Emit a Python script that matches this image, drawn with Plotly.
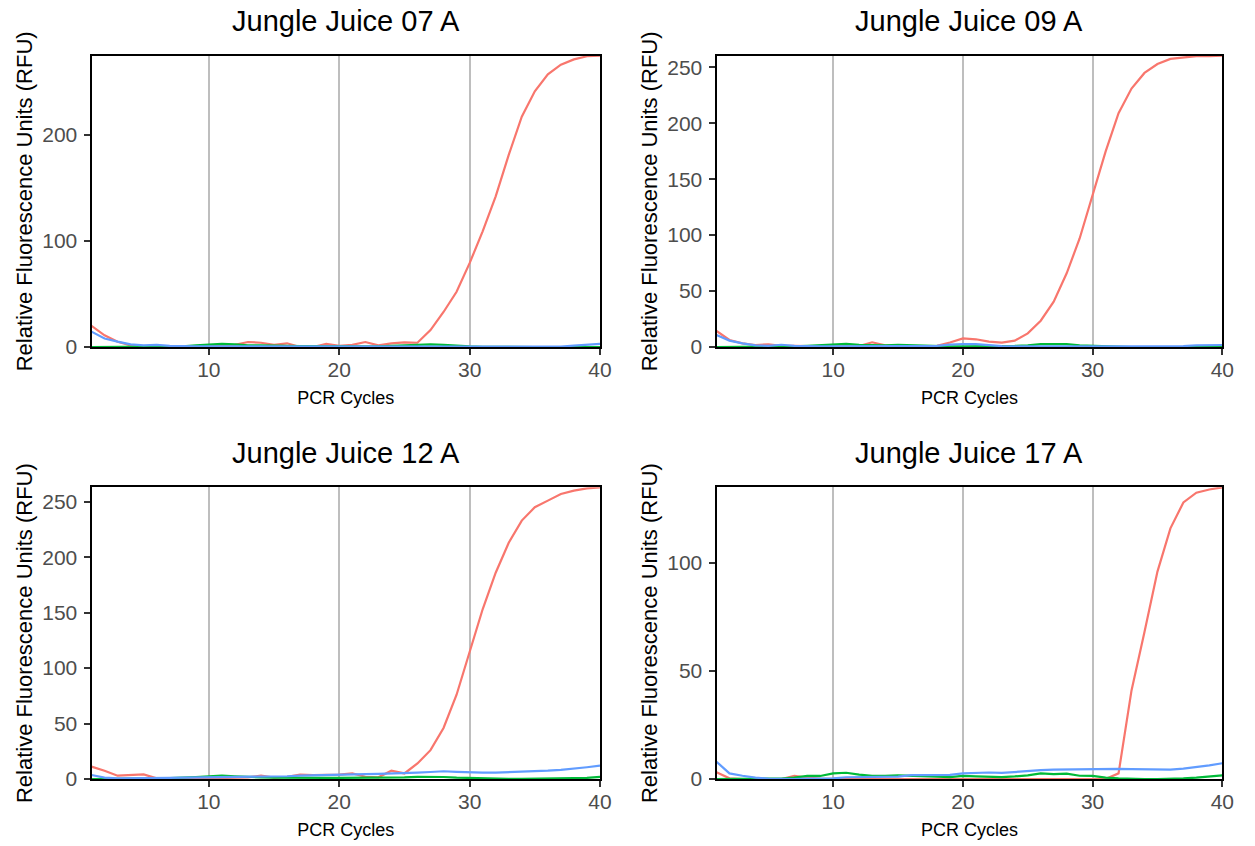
import plotly.graph_objects as go

cycles = list(range(1, 41))

titles = ["Jungle Juice 07 A", "Jungle Juice 09 A", "Jungle Juice 12 A", "Jungle Juice 17 A"]

# Jungle Juice 07 A
jj07_red = [20, 11, 5, 1.5, 0.3, 0.2, 0.2, 0.2, 0.3, 0.5, 1, 2, 4.7, 4, 2, 3.5, 0, 0, 3, 1,
            2, 4.7, 1.5, 3.5, 4.4, 4, 16, 33, 52, 79, 109, 142, 181, 217, 241, 257, 266, 271, 274, 274.5]
jj07_green = [0, 0, 0, 0, 0, 0, 0.3, 0.5, 1.5, 2.5, 3, 2.5, 1.5, 1.5, 1, 1, 0.8, 0.6, 0.5, 0.5,
              0.5, 0.5, 0.6, 1, 2, 2.5, 2.5, 2, 1, 0.5, 0.2, 0, 0, 0, 0, 0, 0, 0, 0, 0]
jj07_blue = [14.5, 8, 5, 2.5, 1.5, 2, 1, 0.5, 0.5, 0.6, 0.6, 0.6, 0.6, 0.5, 0.5, 0.5, 0.4, 0.4, 0.5, 0.5,
             0.5, 0.5, 0.5, 0.5, 0.5, 0.5, 0.5, 0.6, 0.6, 0.6, 0.5, 0.4, 0.3, 0.2, 0.2, 0.2, 0.3, 1.3, 2.2, 3]

# Jungle Juice 09 A
jj09_red = [14.3, 6.3, 3.3, 1.8, 2.4, 1, 1, 0.5, 0.5, 0.5, 0.5, 0.8, 4.2, 1.5, 0.5, 0.5, 0.5, 1, 4, 7.7,
            6.9, 4.8, 3.9, 5.7, 12.2, 23.5, 40.5, 65.9, 97, 137, 174.6, 209, 231, 245, 253, 257.5, 259, 260, 260, 260.4]
jj09_green = [0, 0, 0, 0, 0, 0, 0.5, 1, 1.5, 2.4, 2.8, 2, 1.5, 1.5, 2, 1.5, 1, 0.8, 0.6, 0.6,
              0.6, 0.6, 0.8, 1, 1.5, 2.5, 2.5, 2.5, 1.5, 1, 0.5, 0.2, 0, 0, 0, 0, 0, 0, 0, 0]
jj09_blue = [10.7, 5.7, 3.3, 1.5, 1, 2, 1, 0.5, 0.5, 0.5, 0.5, 0.5, 0.5, 0.5, 0.5, 0.5, 0.6, 1, 2.2, 2.7,
             2.5, 1.5, 0.8, 0.5, 0.5, 0.5, 0.5, 0.5, 0.5, 0.5, 0.4, 0.3, 0.3, 0.3, 0.3, 0.4, 0.8, 1.5, 1.8, 1.8]

# Jungle Juice 12 A
jj12_red = [11.2, 7.5, 3, 3.9, 4.2, 0.6, 0.2, 0.2, 0.3, 0.5, 1, 1.5, 1.5, 3, 1.2, 2, 3.9, 3.6, 3.6, 3.9,
            5, 2, 1.5, 7.5, 5, 14, 26, 46, 76, 114, 153, 186, 213, 233, 245, 251, 257, 260, 262, 263]
jj12_green = [0, 0, 0, 0, 0.2, 0.5, 0.8, 1, 1.8, 2.5, 3, 2.5, 1.8, 1.5, 1.2, 1, 1, 1, 1, 1,
              1, 1, 1, 1.2, 1.5, 2, 2, 1.8, 1.2, 0.8, 0.5, 0.3, 0.2, 0.2, 0.2, 0.3, 0.5, 0.8, 1, 2]
jj12_blue = [3.6, 1.2, 0.5, 0.5, 0.6, 0.8, 1, 1.2, 1.3, 1.5, 1.6, 1.7, 1.8, 1.9, 2, 2.5, 3, 3.4, 3.7, 3.9,
             4.2, 4.4, 4.6, 4.8, 5, 5.8, 6.3, 7, 6.5, 6, 5.8, 5.7, 6, 6.3, 6.8, 7.5, 8.3, 9.3, 10.6, 12]

# Jungle Juice 17 A
jj17_red = [3.1, 0.3, 0, 0, 0, 0, 1.4, 0.6, 0.2, 0, 0, 0, 0, 0, 0, 0, 0, 0, 0, 0,
            0, 0, 0, 0, 0, 0, 0, 0, 0, 0, 0, 2.6, 41, 68, 96, 116, 128, 132.5, 134, 135]
jj17_green = [0, 0, 0, 0, 0, 0.2, 0.6, 1.4, 1.4, 2.6, 2.9, 2, 1.5, 1.4, 1.7, 1.4, 1.1, 1.1, 0.9, 1.4,
              1.2, 1.1, 0.9, 1.2, 1.7, 2.6, 2.3, 2.5, 1.5, 1.4, 0.6, 0.3, 0, 0, 0, 0, 0.3, 0.6, 1.1, 1.7]
jj17_blue = [8, 2.6, 1.5, 0.6, 0.2, 0, 0, 0.2, 0.2, 0.3, 0.8, 0.9, 1, 1, 1.1, 1.8, 1.8, 1.8, 1.9, 2.6,
             2.8, 3, 2.8, 3.3, 3.9, 4.1, 4.3, 4.4, 4.5, 4.8, 4.8, 4.7, 4.6, 4.4, 4.2, 4.3, 4.8, 5.4, 6.3, 7.3]

panels = [
    (jj07_red, jj07_green, jj07_blue),
    (jj09_red, jj09_green, jj09_blue),
    (jj12_red, jj12_green, jj12_blue),
    (jj17_red, jj17_green, jj17_blue),
]
y_dticks = [100, 50, 50, 50]

RED, GREEN, BLUE = "#F8766D", "#00BA38", "#619CFF"
FONT = "Liberation Sans, Arial, sans-serif"

W, H = 1255, 846


def fx(p):
    return p / W


def fy(p):
    return (H - p) / H


xdoms = [[fx(91.5), fx(600.0)], [fx(716.5), fx(1222.3)]]
ydoms = [[fy(347), fy(55.7)], [fy(779), fy(487.3)]]
title_y = [fy(21), fy(453)]

fig = go.Figure()
layout = {}
annotations = []
for i, (red, green, blue) in enumerate(panels):
    r, c = divmod(i, 2)
    n = i + 1
    xa = "x" if n == 1 else f"x{n}"
    ya = "y" if n == 1 else f"y{n}"
    for vals, col in ((red, RED), (green, GREEN), (blue, BLUE)):
        fig.add_trace(go.Scatter(x=cycles, y=vals, mode="lines", xaxis=xa, yaxis=ya,
                                 line=dict(color=col, width=2.2), showlegend=False,
                                 hoverinfo="skip"))
    ymax = max(max(red), max(green), max(blue))
    ymin = min(0, min(red), min(green), min(blue))
    key = "" if n == 1 else str(n)
    layout["xaxis" + key] = dict(
        domain=xdoms[c], anchor=ya, range=[min(cycles), max(cycles)],
        tickvals=[10, 20, 30, 40], showgrid=True, gridcolor="#bebebe", gridwidth=2,
        zeroline=False, showline=True, linecolor="black", linewidth=2, mirror=True,
        ticks="outside", ticklen=6, tickwidth=2, tickcolor="#333333",
        ticklabelstandoff=-3,
        tickfont=dict(family=FONT, size=21, color="#4d4d4d"),
        title=dict(text="PCR Cycles", standoff=11,
                   font=dict(family=FONT, size=18, color="black")),
        automargin=False,
    )
    layout["yaxis" + key] = dict(
        domain=ydoms[r], anchor=xa, range=[ymin, ymax], dtick=y_dticks[i], tick0=0,
        showgrid=False, zeroline=False, showline=True, linecolor="black", linewidth=2,
        mirror=True, ticks="outside", ticklen=6, tickwidth=2, tickcolor="#333333",
        ticklabelstandoff=2,
        tickfont=dict(family=FONT, size=21, color="#4d4d4d"),
        title=dict(text="Relative Fluorescence Units (RFU)", standoff=4,
                   font=dict(family=FONT, size=22, color="black")),
        automargin=False,
    )
    annotations.append(dict(
        text=titles[i], xref="paper", yref="paper",
        x=(xdoms[c][0] + xdoms[c][1]) / 2,
        y=title_y[r], xanchor="center", yanchor="middle", showarrow=False,
        font=dict(family=FONT, size=29, color="black"),
    ))

fig.update_layout(
    width=W, height=H, margin=dict(l=0, r=0, t=0, b=0),
    paper_bgcolor="white", plot_bgcolor="white",
    annotations=annotations, **layout,
)

fig.write_html(
    "out.html",
    config={"displayModeBar": False},
    post_script="document.body.style.margin='0';document.body.style.overflow='hidden';",
)
